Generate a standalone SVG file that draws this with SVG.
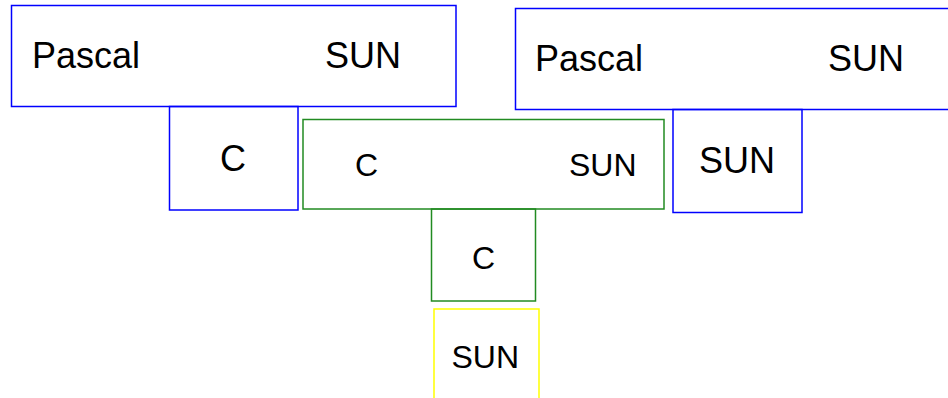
<svg xmlns="http://www.w3.org/2000/svg" width="948" height="398" viewBox="0 0 948 398">
<style>
.b{fill:none;stroke:#0000ff;stroke-width:1.5}
.g{fill:none;stroke:#228b22;stroke-width:1.5}
.y{fill:none;stroke:#ffff00;stroke-width:1.5}
.t{font-family:"Liberation Sans",Arial,sans-serif;fill:#000;font-size:36px}
.s{font-family:"Liberation Sans",Arial,sans-serif;fill:#000;font-size:32px}
</style>
<rect width="948" height="398" fill="#fff"/>
<g id="t1">
<rect class="b" x="11.5" y="5.5" width="444.5" height="101"/>
<rect class="b" x="169.5" y="106.5" width="128.5" height="103.5"/>
<text class="t" x="32" y="68">Pascal</text>
<text class="t" x="325" y="68">SUN</text>
<text class="t" x="220" y="171">C</text>
</g>
<g id="t2">
<rect class="b" x="515.5" y="8.5" width="450" height="101"/>
<rect class="b" x="673" y="109.5" width="129" height="103"/>
<text class="t" x="535" y="71">Pascal</text>
<text class="t" x="828" y="71">SUN</text>
<text class="t" x="699" y="173">SUN</text>
</g>
<g id="t3">
<rect class="g" x="303" y="119.5" width="361" height="89.5"/>
<rect class="g" x="431.5" y="209" width="104" height="92"/>
<text class="s" x="355" y="175.5">C</text>
<text class="s" x="569" y="175.5">SUN</text>
<text class="s" x="472" y="269">C</text>
</g>
<g id="m1">
<rect class="y" x="434" y="309" width="105" height="120"/>
<text class="s" x="451.5" y="367.5">SUN</text>
</g>
<g id="connectors"></g>
</svg>
